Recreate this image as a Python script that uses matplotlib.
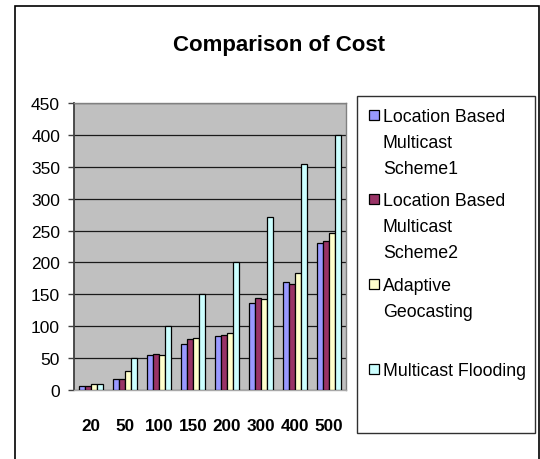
import matplotlib
matplotlib.use("Agg")
import matplotlib.pyplot as plt
import matplotlib.patches as patches
import numpy as np

# node counts on the x axis and cost per scheme
categories = ['20', '50', '100', '150', '200', '300', '400', '500']
scheme1 = [7, 17, 55, 72, 84, 137, 169, 231]
scheme2 = [7, 17, 57, 80, 87, 144, 166, 233]
adaptive = [10, 30, 55, 82, 89, 142, 184, 246]
flooding = [10, 50, 100, 150, 200, 271, 355, 400]

series_names = ['Location Based\nMulticast\nScheme1',
                'Location Based\nMulticast\nScheme2',
                'Adaptive\nGeocasting',
                'Multicast Flooding']
series_colors = ['#9999FF', '#993366', '#FFFFCC', '#CCFFFF']
yticks = [0, 50, 100, 150, 200, 250, 300, 350, 400, 450]

plt.rcParams['font.family'] = ['Liberation Sans', 'DejaVu Sans']

W, H = 540, 460
fig = plt.figure(figsize=(W / 100, H / 100), dpi=100)


def px(x, y):
    """Pixel position (from top left) to figure fraction."""
    return x / W, 1 - y / H


# outer chart frame
fig.patches.append(patches.Rectangle(px(15, 470), (539 - 15) / W, (470 - 7) / H,
                                     transform=fig.transFigure, fill=False,
                                     edgecolor='black', lw=1.2))

left, top = px(74, 104)
right, bottom = px(346, 391)
ax = fig.add_axes([left, bottom, right - left, top - bottom])
ax.set_facecolor('#C0C0C0')

x = np.arange(len(categories))
width = 0.178
all_series = [scheme1, scheme2, adaptive, flooding]
for i, (vals, col) in enumerate(zip(all_series, series_colors)):
    ax.bar(x + (i - 1.5) * width, vals, width, color=col,
           edgecolor='black', linewidth=0.9, zorder=3)

ax.set_xlim(-0.5, len(categories) - 0.5)
ax.set_ylim(0, 450)
ax.set_yticks(yticks)
ax.set_yticklabels([str(t) for t in yticks], fontsize=12.5)
ax.set_xticks(x)
ax.set_xticklabels(categories, fontsize=12.3, fontweight='bold')
ax.grid(axis='y', color='#1a1a1a', linewidth=0.9, zorder=1)
ax.tick_params(axis='y', length=4, width=1, color='#404040', pad=6)
ax.tick_params(axis='x', length=0, pad=20)

ax.spines['left'].set_color('#404040')
ax.spines['left'].set_linewidth(1.3)
for s in ['top', 'right']:
    ax.spines[s].set_color('#808080')
    ax.spines[s].set_linewidth(1.0)
ax.spines['bottom'].set_color('#A8A8A8')
ax.spines['bottom'].set_linewidth(1.0)

fig.text(*px(279, 51), 'Comparison of Cost', fontsize=16, fontweight='bold',
         ha='center', va='baseline')

# legend box, entries top aligned at an even pitch
lx0, ly0 = px(357, 434)
lx1, ly1 = px(535, 97)
fig.patches.append(patches.Rectangle((lx0, ly0), lx1 - lx0, ly1 - ly0,
                                     transform=fig.transFigure, fill=False,
                                     edgecolor='#303030', lw=1.0))
for i, (name, col) in enumerate(zip(series_names, series_colors)):
    base = 121.7 + i * 84.7
    mx, my = px(368.5, base - 1)
    fig.patches.append(patches.Rectangle((mx, my), 10 / W, 10 / H,
                                         transform=fig.transFigure,
                                         facecolor=col, edgecolor='black', lw=0.9))
    for j, line in enumerate(name.split('\n')):
        fig.text(*px(383, base + j * 26), line, fontsize=12.8, ha='left',
                 va='baseline')

fig.savefig('out.png', dpi=100)
